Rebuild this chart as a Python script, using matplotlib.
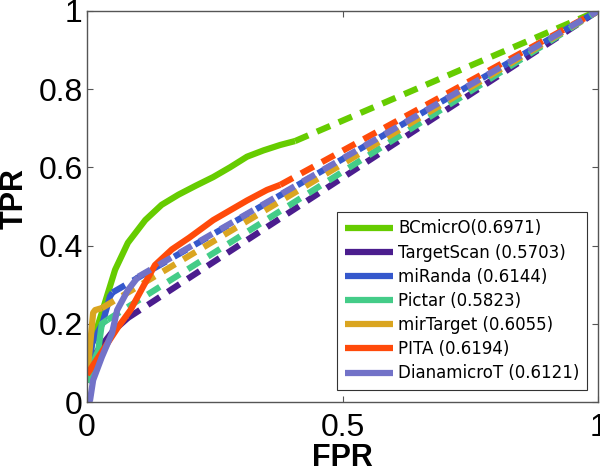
import numpy as np
import matplotlib
matplotlib.use("Agg")
import matplotlib.pyplot as plt
from matplotlib.lines import Line2D

plt.rcParams['font.family'] = ['Liberation Sans', 'DejaVu Sans']

# method names and AUC values shown in the legend
methods = ['BCmicrO', 'TargetScan', 'miRanda', 'Pictar', 'mirTarget', 'PITA', 'DianamicroT']
auc = [0.6971, 0.5703, 0.6144, 0.5823, 0.6055, 0.6194, 0.6121]

# measured part of each ROC curve (solid); the rest is extrapolated to (1, 1)
bcmicro_fpr = [0.0, 0.01, 0.029, 0.055, 0.08, 0.114, 0.146, 0.179, 0.213, 0.247,
               0.28, 0.313, 0.345, 0.378, 0.407]
bcmicro_tpr = [0.08, 0.15, 0.228, 0.338, 0.407, 0.465, 0.504, 0.53, 0.553, 0.575,
               0.6, 0.627, 0.643, 0.657, 0.667]
targetscan_fpr = [0.0, 0.02, 0.05, 0.08]
targetscan_tpr = [0.05, 0.13, 0.18, 0.215]
miranda_fpr = [0.0, 0.01, 0.03, 0.045, 0.05]
miranda_tpr = [0.06, 0.15, 0.2, 0.27, 0.28]
pictar_fpr = [0.0, 0.012, 0.022, 0.029, 0.04]
pictar_tpr = [0.05, 0.1, 0.133, 0.2, 0.21]
mirtarget_fpr = [0.0, 0.002, 0.012, 0.016, 0.029]
mirtarget_tpr = [0.07, 0.09, 0.228, 0.235, 0.24]
pita_fpr = [0.0, 0.035, 0.06, 0.085, 0.114, 0.133, 0.166, 0.2, 0.247, 0.313, 0.352, 0.378]
pita_tpr = [0.07, 0.14, 0.19, 0.235, 0.305, 0.35, 0.39, 0.42, 0.465, 0.515, 0.542, 0.555]
dianamicro_fpr = [0.0, 0.006, 0.012, 0.029, 0.049, 0.059, 0.08, 0.1]
dianamicro_tpr = [0.0, 0.005, 0.056, 0.115, 0.176, 0.235, 0.286, 0.32]

curves = [
    (bcmicro_fpr, bcmicro_tpr),
    (targetscan_fpr, targetscan_tpr),
    (miranda_fpr, miranda_tpr),
    (pictar_fpr, pictar_tpr),
    (mirtarget_fpr, mirtarget_tpr),
    (pita_fpr, pita_tpr),
    (dianamicro_fpr, dianamicro_tpr),
]
colors = ['#66cc00', '#4b1d8e', '#3558cc', '#44cc88', '#daa520', '#ff4a0a', '#7272c8']

fig = plt.figure(figsize=(6.0, 4.68), dpi=100)
ax = fig.add_axes([0.145, 0.141, 0.852, 0.836])

handles = []
labels = []
for i, (fpr, tpr) in enumerate(curves):
    ax.plot(fpr, tpr, color=colors[i], lw=4.5, solid_capstyle='butt',
            solid_joinstyle='round')
    ax.plot([fpr[-1], 1.0], [tpr[-1], 1.0], color=colors[i], lw=4.5,
            dashes=(2.3, 1.5), dash_capstyle='butt')
    handles.append(Line2D([], [], color=colors[i], lw=4.5, linestyle='-',
                          solid_capstyle='butt'))
    if methods[i] == 'BCmicrO':
        labels.append(methods[i] + '(%.4f)' % auc[i])
    else:
        labels.append(methods[i] + ' (%.4f)' % auc[i])

ax.set_xlim(0, 1)
ax.set_ylim(0, 1)
ax.set_xticks([0, 0.5, 1])
ax.set_xticklabels(['0', '0.5', '1'])
ax.set_yticks([0, 0.2, 0.4, 0.6, 0.8, 1])
ax.set_yticklabels(['0', '0.2', '0.4', '0.6', '0.8', '1'])
ax.tick_params(direction='in', length=4, width=0.8, color='#555555',
               labelsize=23, top=True, right=True)
ax.tick_params(axis='x', pad=8)
ax.tick_params(axis='y', pad=3)
for s in ax.spines.values():
    s.set_color('#555555')
    s.set_linewidth(1.0)

ax.set_xlabel('FPR', fontsize=22, fontweight='bold')
ax.xaxis.set_label_coords(0.5, -0.105)
ax.set_ylabel('TPR', fontsize=22, fontweight='bold')
ax.yaxis.set_label_coords(-0.112, 0.52)

leg = ax.legend(handles, labels, loc='lower right', bbox_to_anchor=(0.978, 0.031),
                borderaxespad=0, prop={'family': 'DejaVu Sans', 'size': 12},
                handlelength=2.9, handletextpad=0.3,
                labelspacing=0.37, borderpad=0.45, fancybox=False, framealpha=1)
leg.get_frame().set_edgecolor('#333333')
leg.get_frame().set_linewidth(0.8)

fig.savefig('out.png', dpi=100)
